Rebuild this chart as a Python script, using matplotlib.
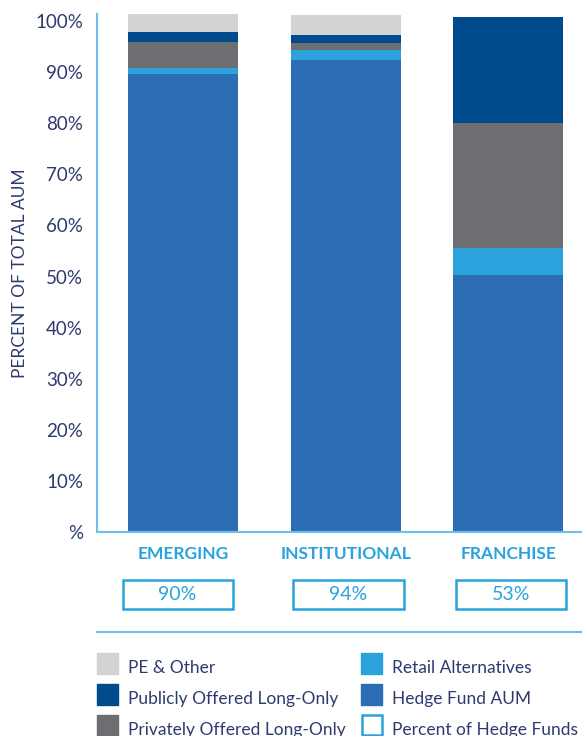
import matplotlib.pyplot as plt
from matplotlib.patches import Rectangle
from matplotlib.transforms import blended_transform_factory

plt.rcParams['font.family'] = ['Lato', 'DejaVu Sans']

# data (percent of total AUM)
categories = ["EMERGING", "INSTITUTIONAL", "FRANCHISE"]
hedge_fund = [89.6, 92.4, 50.3]
retail_alt = [1.3, 1.9, 5.3]
private_lo = [5.0, 1.4, 24.4]
public_lo = [1.9, 1.6, 20.8]
pe_other = [3.6, 3.9, 0.0]
pct_hedge_funds = ["90%", "94%", "53%"]
yticks = [0, 10, 20, 30, 40, 50, 60, 70, 80, 90, 100]
ytick_labels = ["%", "10%", "20%", "30%", "40%", "50%", "60%", "70%", "80%", "90%", "100%"]

navy_text = "#2e3a6e"
light_blue = "#29a3dd"
axis_blue = "#6cc0e8"

series = [
    ("Hedge Fund AUM", hedge_fund, "#2b6eb5"),
    ("Retail Alternatives", retail_alt, "#2ca3dd"),
    ("Privately Offered Long-Only", private_lo, "#6d6e71"),
    ("Publicly Offered Long-Only", public_lo, "#004b8d"),
    ("PE & Other", pe_other, "#d3d3d5"),
]

W, H = 582, 736
fig = plt.figure(figsize=(W / 100, H / 100), dpi=100)
ax = fig.add_axes([97 / W, 1 - 532 / H, 1 - 97 / W, (532 - 14) / H])

x = list(range(len(categories)))
bottom = [0.0] * len(categories)
for name, vals, col in series:
    ax.bar(x, vals, width=0.676, bottom=bottom, color=col, label=name)
    bottom = [b + v for b, v in zip(bottom, vals)]

ax.set_xlim(-0.528, 2.452)
ax.set_ylim(0, 101.4)
ax.set_yticks(yticks)
ax.set_yticklabels(ytick_labels, color=navy_text, fontsize=13.5)
ax.set_xticks([])
ax.tick_params(axis='y', length=0, pad=10)
for s in ["top", "right"]:
    ax.spines[s].set_visible(False)
ax.spines["left"].set_color(axis_blue)
ax.spines["bottom"].set_color(axis_blue)
ax.spines["left"].set_linewidth(1.5)
ax.spines["bottom"].set_linewidth(1.5)
ax.set_ylabel("PERCENT OF TOTAL AUM", color=navy_text, fontsize=12.5, labelpad=5)

# category labels under each bar
tr = blended_transform_factory(ax.transData, fig.transFigure)
for i, cat in enumerate(categories):
    ax.text(i, 1 - 554 / H, cat, transform=tr, color=light_blue, fontsize=12.5,
            fontweight="bold", ha="center", va="center")

# percent-of-hedge-funds boxes
box_x = [(122.5, 232.5), (293, 404), (455.5, 566)]
for i, (x0, x1) in enumerate(box_x):
    fig.patches.append(Rectangle((x0 / W, 1 - 609 / H), (x1 - x0) / W, 29 / H,
                                 transform=fig.transFigure, fill=False,
                                 edgecolor=light_blue, linewidth=1.8))
    fig.text((x0 + x1) / 2 / W, 1 - 595 / H, pct_hedge_funds[i], color=light_blue,
             fontsize=14, ha="center", va="center")

# separator line
fig.add_artist(plt.Line2D([97 / W, 1], [1 - 632 / H] * 2, color=axis_blue, linewidth=1.5))

# legend
legend_items = [
    ("PE & Other", "#d3d3d5", 97, 653, 673),
    ("Publicly Offered Long-Only", "#004b8d", 97, 684, 704),
    ("Privately Offered Long-Only", "#6d6e71", 97, 714.5, 734.5),
    ("Retail Alternatives", "#2ca3dd", 361, 653, 673),
    ("Hedge Fund AUM", "#2b6eb5", 361, 684, 704),
]
for name, col, lx, top, base in legend_items:
    fig.patches.append(Rectangle((lx / W, 1 - (top + 21) / H), 21 / W, 21 / H,
                                 transform=fig.transFigure, color=col))
    fig.text((lx + 31) / W, 1 - base / H, name, color=navy_text, fontsize=12.5, va="baseline")
fig.patches.append(Rectangle((362 / W, 1 - 735 / H), 19.5 / W, 20.5 / H,
                             transform=fig.transFigure, fill=False,
                             edgecolor=light_blue, linewidth=1.8))
fig.text(392 / W, 1 - 734.5 / H, "Percent of Hedge Funds", color=navy_text, fontsize=12.5,
         va="baseline")

fig.savefig("out.png", dpi=100)
